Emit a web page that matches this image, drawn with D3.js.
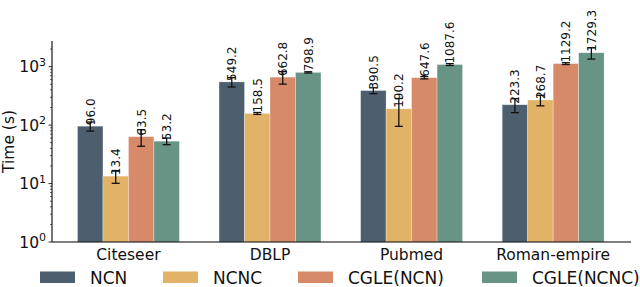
<!DOCTYPE html>
<html>
<head>
<meta charset="utf-8">
<script src="https://cdn.jsdelivr.net/npm/d3@7"></script>
<style>
body { margin: 0; background: #fff; }
svg { font-family: "DejaVu Sans", sans-serif; }
</style>
</head>
<body>
<svg width="640" height="287"></svg>
<script>
var datasets = ["Citeseer", "DBLP", "Pubmed", "Roman-empire"];
var methods = ["NCN", "NCNC", "CGLE(NCN)", "CGLE(NCNC)"];
var colors = ["#4d5f6f", "#e2b267", "#d68a6a", "#689486"];

// mean times per method, one value per dataset
var ncn = [96.0, 549.2, 390.5, 223.3];
var ncnc = [13.4, 158.5, 190.2, 268.7];
var cgleNcn = [63.5, 662.8, 647.6, 1129.2];
var cgleNcnc = [53.2, 798.9, 1087.6, 1729.3];

// std (error bars)
var ncnErr = [17, 100, 45, 60];
var ncncErr = [3.3, 6, 95, 55];
var cgleNcnErr = [20, 160, 30, 40];
var cgleNcncErr = [7, 20, 40, 380];

var yTicks = [1, 10, 100, 1000];

var series = [ncn, ncnc, cgleNcn, cgleNcnc];
var errs = [ncnErr, ncncErr, cgleNcnErr, cgleNcncErr];

var svg = d3.select("svg");

// plot area (note: "top" is reserved on window, so use plotTop)
var plotLeft = 52, plotRight = 631, plotTop = 41, plotBottom = 242;
var barW = 0.18;

var x = d3.scaleLinear().domain([-0.54, 3.55]).range([plotLeft, plotRight]);
var y = d3.scaleLog().domain([1, 2750]).range([plotBottom, plotTop]);

var bars = [];
series.forEach(function (s, m) {
	s.forEach(function (v, i) {
		bars.push({m: m, i: i, v: v, e: errs[m][i]});
	});
});

function cx(d) {
	return x(d.i + (d.m - 1.5) * barW);
}

svg.append("g").selectAll("rect")
	.data(bars)
	.enter()
	.append("rect")
	.attr("x", function (d) { return x(d.i + (d.m - 2) * barW); })
	.attr("width", x(barW) - x(0))
	.attr("y", function (d) { return y(d.v); })
	.attr("height", function (d) { return plotBottom - y(d.v); })
	.attr("fill", function (d) { return colors[d.m]; })
	.attr("stroke", "#fff")
	.attr("stroke-opacity", 0.5)
	.attr("stroke-width", 0.6);

// error bars
var eb = svg.append("g").attr("stroke", "#111").attr("stroke-width", 1.3);
bars.forEach(function (d) {
	var hi = y(d.v + d.e), lo = y(Math.max(d.v - d.e, 1.01)), c = cx(d);
	eb.append("line").attr("x1", c).attr("x2", c).attr("y1", hi).attr("y2", lo);
	eb.append("line").attr("x1", c - 4).attr("x2", c + 4).attr("y1", hi).attr("y2", hi);
	eb.append("line").attr("x1", c - 4).attr("x2", c + 4).attr("y1", lo).attr("y2", lo);
});

// value labels
svg.append("g").selectAll("text")
	.data(bars)
	.enter()
	.append("text")
	.attr("transform", function (d) {
		return "translate(" + (cx(d) + 4.5) + "," + (y(d.v) - 1) + ") rotate(-90)";
	})
	.attr("font-size", 12)
	.attr("fill", "#111")
	.text(function (d) { return d.v.toFixed(1); });

// y axis
var yAxis = svg.append("g");
yAxis.append("line")
	.attr("x1", plotLeft).attr("x2", plotLeft).attr("y1", plotTop).attr("y2", plotBottom)
	.attr("stroke", "#000").attr("stroke-width", 1.1);

var minor = [];
for (var p = 0; p < 4; p++) {
	for (var k = 2; k <= 9; k++) {
		var v = k * Math.pow(10, p);
		if (v < y.domain()[1]) minor.push(v);
	}
}
yAxis.selectAll(".minor").data(minor).enter().append("line")
	.attr("x1", plotLeft - 2).attr("x2", plotLeft)
	.attr("y1", function (d) { return y(d); }).attr("y2", function (d) { return y(d); })
	.attr("stroke", "#000").attr("stroke-width", 0.6);
yAxis.selectAll(".major").data(yTicks).enter().append("line")
	.attr("x1", plotLeft - 3.5).attr("x2", plotLeft)
	.attr("y1", function (d) { return y(d); }).attr("y2", function (d) { return y(d); })
	.attr("stroke", "#000").attr("stroke-width", 0.8);

var yl = yAxis.selectAll(".lbl").data(yTicks).enter().append("text")
	.attr("x", plotLeft - 6)
	.attr("y", function (d) { return y(d) + 5.5; })
	.attr("text-anchor", "end")
	.attr("font-size", 15.5)
	.attr("fill", "#111");
yl.append("tspan").text("10");
yl.append("tspan").attr("dy", -6.5).attr("font-size", 11)
	.text(function (d) { return Math.round(Math.log10(d)); });

svg.append("text")
	.attr("transform", "translate(14," + ((plotTop + plotBottom) / 2) + ") rotate(-90)")
	.attr("text-anchor", "middle")
	.attr("font-size", 15.5)
	.attr("fill", "#111")
	.text("Time (s)");

// x axis
svg.append("line")
	.attr("x1", plotLeft).attr("x2", plotRight).attr("y1", plotBottom).attr("y2", plotBottom)
	.attr("stroke", "#000").attr("stroke-width", 1.1);

svg.append("g").selectAll("text")
	.data(datasets)
	.enter()
	.append("text")
	.attr("x", function (d, i) { return x(i); })
	.attr("y", plotBottom + 18)
	.attr("text-anchor", "middle")
	.attr("font-size", 15.5)
	.attr("fill", "#111")
	.text(function (d) { return d; });

// legend
var legX = [40, 163, 298, 482];
var leg = svg.append("g").selectAll("g")
	.data(methods)
	.enter()
	.append("g")
	.attr("transform", function (d, i) { return "translate(" + legX[i] + ",271.5)"; });
leg.append("rect")
	.attr("width", 35).attr("height", 11.5)
	.attr("fill", function (d, i) { return colors[i]; });
leg.append("text")
	.attr("x", 50)
	.attr("y", 12)
	.attr("font-size", 17)
	.attr("fill", "#111")
	.text(function (d) { return d; });
</script>
</body>
</html>
